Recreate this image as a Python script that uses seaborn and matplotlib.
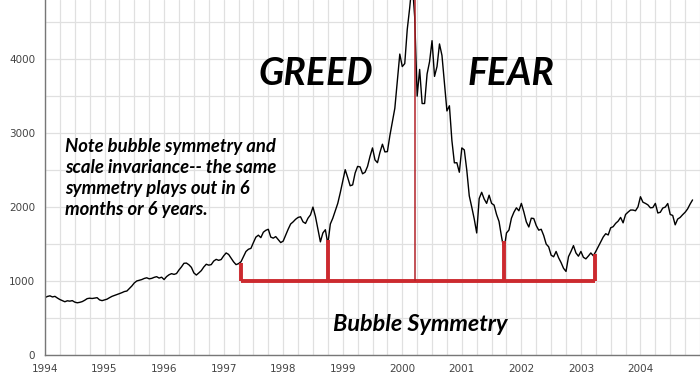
import numpy as np
import pandas as pd
import matplotlib
matplotlib.use("Agg")
import matplotlib.pyplot as plt
import seaborn as sns

# NASDAQ composite, two readings per month (1st and 15th)
y1994 = [776, 792, 800, 785, 793, 770, 750, 735, 720, 733, 728, 735,
         715, 706, 712, 722, 740, 762, 768, 764, 770, 775, 745, 735]
y1995 = [745, 755, 775, 793, 805, 817, 830, 843, 858, 865, 900, 933,
         975, 1001, 1010, 1020, 1035, 1044, 1030, 1036, 1050, 1059, 1040, 1052]
y1996 = [1020, 1060, 1085, 1100, 1090, 1101, 1150, 1191, 1240, 1243, 1220, 1185,
         1110, 1081, 1110, 1141, 1190, 1227, 1215, 1222, 1270, 1293, 1280, 1291]
y1997 = [1340, 1380, 1360, 1309, 1260, 1222, 1235, 1261, 1330, 1400, 1430, 1442,
         1520, 1594, 1620, 1587, 1660, 1686, 1700, 1594, 1580, 1601, 1560, 1520]
y1998 = [1540, 1619, 1700, 1771, 1800, 1835, 1860, 1869, 1800, 1779, 1850, 1895,
         2000, 1873, 1700, 1530, 1650, 1694, 1500, 1771, 1850, 1950, 2050, 2193]
y1999 = [2350, 2506, 2400, 2288, 2300, 2461, 2550, 2543, 2450, 2471, 2550, 2686,
         2800, 2638, 2600, 2739, 2850, 2746, 2750, 2966, 3150, 3336, 3700, 4069]
y2000 = [3900, 3940, 4400, 4697, 5048, 4573, 3500, 3861, 3400, 3400, 3800, 3966,
         4250, 3767, 3900, 4206, 4050, 3673, 3300, 3370, 2900, 2598, 2600, 2471]
y2001 = [2800, 2773, 2500, 2152, 2000, 1840, 1650, 2116, 2200, 2110, 2050, 2161,
         2050, 2027, 1900, 1805, 1600, 1420, 1650, 1690, 1850, 1931, 1990, 1950]
y2002 = [2050, 1934, 1800, 1731, 1850, 1845, 1750, 1688, 1700, 1616, 1500, 1463,
         1350, 1328, 1400, 1315, 1250, 1172, 1130, 1330, 1400, 1479, 1380, 1336]
y2003 = [1400, 1321, 1300, 1338, 1380, 1341, 1400, 1464, 1530, 1596, 1640, 1623,
         1720, 1735, 1780, 1810, 1860, 1787, 1900, 1932, 1960, 1960, 1950, 2003]
y2004 = [2140, 2066, 2050, 2030, 1990, 1994, 2050, 1920, 1930, 1987, 2000, 2048,
         1900, 1887, 1760, 1838, 1860, 1897, 1930, 1975, 2040, 2097]

years = list(range(1994, 2005))
year_ticks = [str(y) for y in years]
y_ticks = [0, 1000, 2000, 3000, 4000]

# symmetry markers: (year, index level)
sym_years = [1997.29, 1998.76, 2001.70, 2003.24]
sym_heights = [1250, 1550, 1540, 1370]
base_level = 1000

values = y1994 + y1995 + y1996 + y1997 + y1998 + y1999 + y2000 + y2001 + y2002 + y2003 + y2004
df = pd.DataFrame({"t": 1994 + np.arange(len(values)) / 24.0, "close": values})

sns.set_style("whitegrid")
plt.rcParams["font.family"] = ["DejaVu Sans"]

fig = plt.figure(figsize=(7, 3.75), dpi=100)
ax = fig.add_axes([45 / 700, 20 / 375, 655 / 700, 355 / 375])

sns.lineplot(data=df, x="t", y="close", color="black", lw=1.0, ax=ax)

# red annotations
red = "#cc2a2f"
ax.hlines(base_level, sym_years[0], sym_years[-1], color=red, lw=2.8, zorder=3)
ax.vlines(sym_years, base_level, sym_heights, color=red, lw=2.8, zorder=3)
peak = df.loc[df["close"].idxmax()]
ax.vlines(peak["t"] + 0.05, base_level, 4800, color="#b22228", lw=1.1, zorder=3)

ax.set_xlim(1994, 2005)
ax.set_ylim(0, 4800)
ax.set_xticks(years)
ax.set_xticklabels(year_ticks)
ax.set_xticks(np.arange(1994, 2005.01, 0.25), minor=True)
ax.set_yticks(y_ticks)
ax.set_yticks(np.arange(500, 4800, 1000), minor=True)
ax.grid(which="both", color="#e0e0e0", lw=0.9)
ax.set_xlabel("")
ax.set_ylabel("")
ax.tick_params(axis="both", which="major", labelsize=7.5, labelcolor="#444444",
               length=3, color="#666666")
ax.tick_params(axis="x", which="major", pad=3.5)
ax.tick_params(axis="y", which="major", pad=4)
ax.tick_params(axis="both", which="minor", length=0)
for s in ["top", "right"]:
    ax.spines[s].set_visible(False)
for s in ["left", "bottom"]:
    ax.spines[s].set_color("#777777")
    ax.spines[s].set_linewidth(1.0)

big = dict(family=["Lato", "DejaVu Sans"], weight="bold", style="italic", color="black")
ax.text(1998.55, 3810, "GREED", fontsize=27, ha="center", va="center", **big)
ax.text(2001.82, 3810, "FEAR", fontsize=27, ha="center", va="center", **big)
ax.text(1994.34, 2940, "Note bubble symmetry and\nscale invariance-- the same\n"
        "symmetry plays out in 6\nmonths or 6 years.",
        fontsize=13.3, ha="left", va="top", linespacing=1.3, **big)
ax.text(2000.3, 410, "Bubble Symmetry", fontsize=16.8, ha="center", va="center", **big)

fig.savefig("out.png", dpi=100)
